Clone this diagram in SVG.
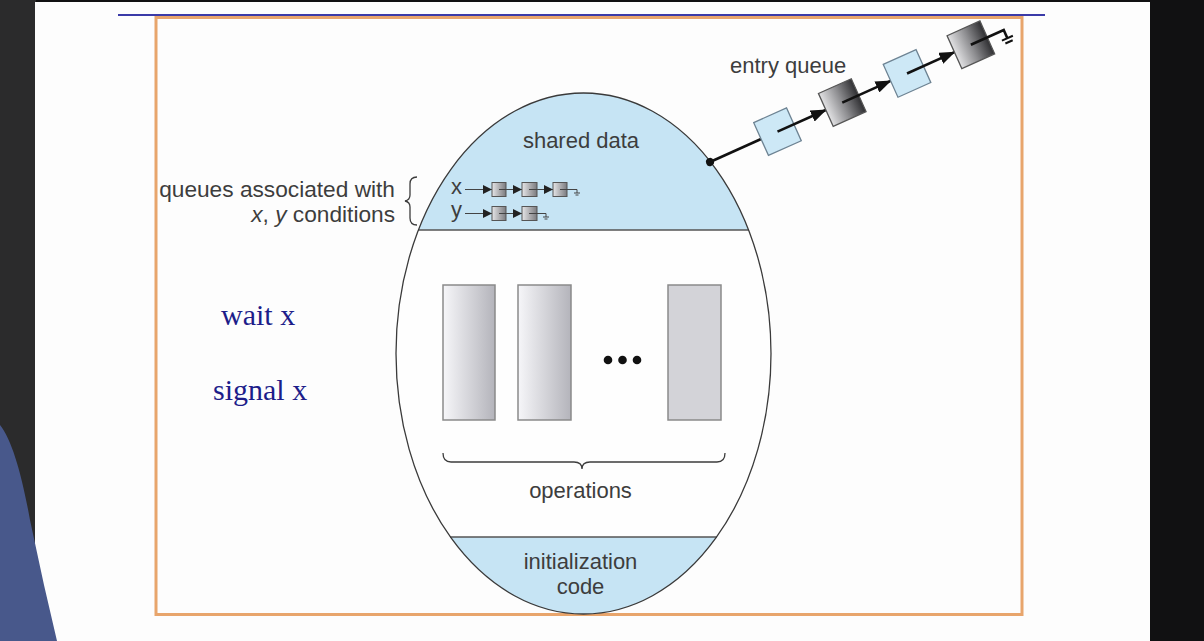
<svg xmlns="http://www.w3.org/2000/svg" width="1204" height="641" viewBox="0 0 1204 641">
<defs>
<style>
.t{font-family:"Liberation Sans",Arial,sans-serif;fill:#3d3d3d;font-size:22px}
.tq{font-size:22.7px}
.ser{font-family:"Liberation Serif","Times New Roman",serif;fill:#1d1d8a;font-size:30px}
.ln{stroke:#3d3d3d;fill:none;stroke-width:1.3}
.eq{stroke:#111;stroke-width:2.6;fill:none}
.sq{stroke:#444;stroke-width:1;fill:none}
.lb{fill:#cde8f6;stroke:#6d8393;stroke-width:1.3}
.dk{fill:url(#gDark);stroke:#555;stroke-width:1.3}
.op{fill:url(#gOp);stroke:#8a8a8a;stroke-width:1.5}
.mini{fill:url(#gMini);stroke:#555;stroke-width:1}
</style>
<linearGradient id="gDark" x1="0" y1="0" x2="1" y2="0">
<stop offset="0" stop-color="#e2e2e4"/><stop offset="0.5" stop-color="#8d8d90"/><stop offset="1" stop-color="#2f2f32"/>
</linearGradient>
<linearGradient id="gOp" x1="0" y1="0" x2="1" y2="0">
<stop offset="0" stop-color="#f6f6f9"/><stop offset="1" stop-color="#b4b4bb"/>
</linearGradient>
<linearGradient id="gMini" x1="0" y1="0" x2="1" y2="0">
<stop offset="0" stop-color="#e6e6e8"/><stop offset="1" stop-color="#7a7a7e"/>
</linearGradient>
<clipPath id="egg"><ellipse cx="583.5" cy="353.5" rx="187.5" ry="260.5"/></clipPath>
<marker id="ahBig" markerUnits="userSpaceOnUse" markerWidth="16" markerHeight="12" refX="15" refY="6" orient="auto">
<path d="M0,0 L16,6 L0,12 Z" fill="#111"/>
</marker>
<marker id="ahSmall" markerUnits="userSpaceOnUse" markerWidth="9" markerHeight="9" refX="9" refY="4.5" orient="auto">
<path d="M0,0 L9,4.5 L0,9 Z" fill="#222"/>
</marker>
</defs>

<!-- video background -->
<rect x="0" y="0" width="1204" height="641" fill="#111112"/>
<rect x="0" y="0" width="36" height="641" fill="#2b2b2c"/>
<rect x="35" y="2" width="1115" height="639" fill="#fdfdfd"/>
<path d="M0,425 C12,440 22,475 30,520 L44,585 L57,641 L0,641 Z" fill="#48588b"/>

<!-- slide decoration -->
<line x1="118" y1="15" x2="1045" y2="15" stroke="#3b3ba8" stroke-width="2"/>
<rect x="156" y="17.5" width="866" height="597" fill="none" stroke="#e8a56c" stroke-width="3"/>

<!-- monitor ellipse -->
<g id="monitor">
<ellipse cx="583.5" cy="353.5" rx="187.5" ry="260.5" fill="#fefefe"/>
<g clip-path="url(#egg)">
<rect x="390" y="85" width="390" height="145" fill="#c6e4f4"/>
<rect x="390" y="537" width="390" height="85" fill="#c6e4f4"/>
</g>
<line x1="418" y1="230" x2="749" y2="230" stroke="#555" stroke-width="1.3"/>
<line x1="450" y1="537" x2="717" y2="537" stroke="#555" stroke-width="1.3"/>
<ellipse cx="583.5" cy="353.5" rx="187.5" ry="260.5" fill="none" stroke="#3a3a3a" stroke-width="1.3"/>
</g>

<g id="shared-data"><text class="t" x="581" y="148" text-anchor="middle">shared data</text></g>
<g id="init-code">
<text class="t" x="580.5" y="569" text-anchor="middle">initialization</text>
<text class="t" x="580.5" y="594" text-anchor="middle">code</text>
</g>

<!-- operations -->
<g id="operations">
<rect class="op" x="443" y="285" width="52" height="135"/>
<rect class="op" x="518" y="285" width="53" height="135"/>
<rect x="668" y="285" width="53" height="135" fill="#d3d3d8" stroke="#8a8a8a" stroke-width="1.5"/>
<circle cx="608" cy="360" r="4.3" fill="#111"/>
<circle cx="622.5" cy="360" r="4.3" fill="#111"/>
<circle cx="637" cy="360" r="4.3" fill="#111"/>
<path class="ln" d="M443,453 Q443,462 451,462 L574,462 Q582,462 582,469 Q582,462 590,462 L717,462 Q725,462 725,453"/>
<text class="t" x="580.5" y="498" text-anchor="middle">operations</text>
</g>

<!-- condition queue label -->
<g id="queue-label">
<text class="t tq" x="395" y="197" text-anchor="end">queues associated with</text>
<text class="t tq" x="395" y="222" text-anchor="end"><tspan font-style="italic">x</tspan>, <tspan font-style="italic">y</tspan> conditions</text>
<path class="ln" d="M417,177 Q410,177 410,184 L410,195 Q410,200 405,201 Q410,202 410,207 L410,218 Q410,225 417,225"/>
</g>

<!-- condition queues -->
<g id="cond-queues">
<text class="t" x="451" y="194">x</text>
<text class="t" x="451" y="217">y</text>
<g id="connectors-small">
<line class="sq" x1="465" y1="189.5" x2="492" y2="189.5" marker-end="url(#ahSmall)"/>
<line class="sq" x1="506" y1="189.5" x2="522" y2="189.5" marker-end="url(#ahSmall)"/>
<line class="sq" x1="537" y1="189.5" x2="553" y2="189.5" marker-end="url(#ahSmall)"/>
<line class="sq" x1="465" y1="213.5" x2="492" y2="213.5" marker-end="url(#ahSmall)"/>
<line class="sq" x1="506" y1="213.5" x2="522" y2="213.5" marker-end="url(#ahSmall)"/>
</g>
<rect class="mini" x="492" y="182.5" width="14" height="14"/>
<rect class="mini" x="522" y="182.5" width="15" height="14"/>
<rect class="mini" x="553" y="182.5" width="14" height="14"/>
<rect class="mini" x="492" y="206.5" width="14" height="14"/>
<rect class="mini" x="522" y="206.5" width="15" height="14"/>
<path class="sq" d="M499,189.5 H506 M529,189.5 H537 M560,189.5 H577 V193 M574,193 H580 M575.5,195 H578.5"/>
<path class="sq" d="M499,213.5 H506 M529,213.5 H546 V217 M543,217 H549 M544.5,219 H547.5"/>
</g>

<!-- entry queue -->
<g id="entry-queue">
<text class="t" x="730" y="73">entry queue</text>
<g transform="translate(710,162) rotate(-24.2)">
<g id="connectors">
<line class="eq" x1="0" y1="0" x2="56" y2="0"/>
</g>
<circle cx="0" cy="0" r="4" fill="#111"/>
<rect class="lb" x="56" y="-18" width="36" height="36"/>
<line class="eq" x1="74" y1="0" x2="127" y2="0" marker-end="url(#ahBig)"/>
<rect class="dk" x="127" y="-18" width="36" height="36"/>
<line class="eq" x1="145" y1="0" x2="198" y2="0" marker-end="url(#ahBig)"/>
<rect class="lb" x="198" y="-18" width="36" height="36"/>
<line class="eq" x1="216" y1="0" x2="268" y2="0" marker-end="url(#ahBig)"/>
<rect class="dk" x="268" y="-18" width="36" height="36"/>
<path class="eq" d="M286,0 H322 V9" stroke-width="2.4"/>
<path d="M316,9 H328 M318,13 H326" stroke="#111" stroke-width="2" fill="none"/>
</g>
</g>

<!-- wait / signal -->
<g id="ops-text">
<text class="ser" x="221" y="325">wait x</text>
<text class="ser" x="213" y="400">signal x</text>
</g>
</svg>
